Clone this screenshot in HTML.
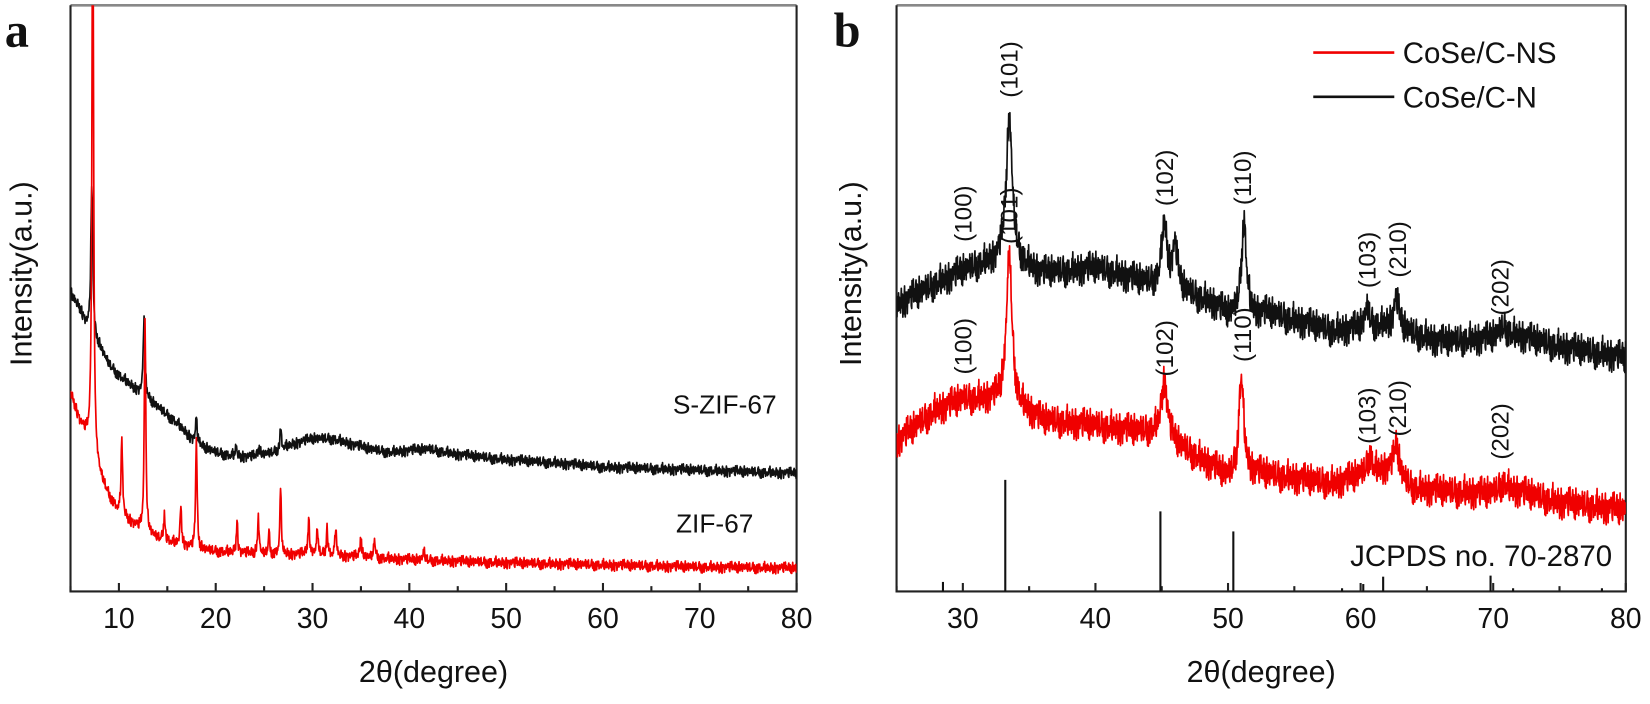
<!DOCTYPE html>
<html><head><meta charset="utf-8">
<style>
html,body{margin:0;padding:0;background:#fff;}
svg{display:block;}
text{font-family:"Liberation Sans",Arial,sans-serif;}
</style></head>
<body>
<svg id="fig" width="1650" height="704" viewBox="0 0 1568 669" preserveAspectRatio="none" xmlns="http://www.w3.org/2000/svg">
  <g id="panelA"></g>
  <g id="panelB"></g>
</svg>
<script>
// ---------- Panel a data (intensity in plot units, 0 = axis bottom) ----------
const aBlackBaseX = [5,6,7,8,9,10,12,14,16,18,20,22,24,26,28,30,32,34,36,38,40,42,45,50,55,60,70,80];
const aBlackBaseY = [283,268,242,232,215,205,190,175,160,140,132,128,128,132,140,145,145,140,135,132,134,135,130,125,122,118,115,112];
const aBlackPeakX = [7.2,12.6,18.0,22.1,24.5,26.7];
const aBlackPeakH = [145,80,25,10,8,20];
const aRedBaseX = [5,6,7,8,9,10,12,14,16,18,20,25,30,40,50,60,70,80];
const aRedBaseY = [189,160,140,110,90,75,60,50,45,40,38,35,35,30,27,25,23,22];
const aRedPeakX = [7.3,10.3,12.7,14.7,16.4,18.0,22.2,24.4,25.5,26.7,29.6,30.5,31.5,32.4,35.0,36.4,41.5];
const aRedPeakH = [600,75,205,27,38,105,30,35,20,62,35,25,27,28,20,19,10];
const aTicks = [10,20,30,40,50,60,70,80];

// ---------- Panel b data ----------
const bBlackBaseX = [25,28,30,32,33.5,36,38,40,42,44,46,47,49,50,52,53,55,58,60,62,64,66,70,72,75,80];
const bBlackBaseY = [272,292,304,312,314,302,304,307,300,292,285,282,272,262,262,264,257,247,250,252,244,237,240,242,232,222];
const bBlackPeakX = [33.5,45.2,46.0,51.2,60.5,62.7,70.8];
const bBlackPeakH = [135,60,40,90,18,28,10];
const bRedBaseX = [25,28,30,32,33.5,36,40,43,44.5,46,47,49,50,52,55,58,60,62,64,66,70,72,75,80];
const bRedBaseY = [142,172,182,182,180,162,157,152,150,140,132,117,107,112,107,102,110,115,97,95,92,94,84,77];
const bRedPeakX = [33.5,45.2,51.0,60.7,62.7,70.8];
const bRedPeakH = [140,55,95,18,30,10];
const refX = [28.5,33.2,44.9,50.4,58.6,60.2,61.7,69.8,71.5,78.2];
const refH = [9,106,76,57,3,7,14,15,3,3];
const bTicks = [30,40,50,60,70,80];
const bLabelsHKL = ["(100)","(101)","(102)","(110)","(103)","(210)","(202)"];
const bLabelX = [30.0,33.5,45.2,51.1,60.5,62.8,70.5];
const bLabelBlackY = [359,496,393,393,315,325,289];
const bLabelRedY = [233,357,231,244,167,174,152];

// fixed jitter texture table
const jitter = [0.3,-0.8,0.9,-0.2,-1,0.6,0.1,-0.5,1,-0.7,0.4,-0.3,0.8,-0.9,0.2,0.7,-0.4,-0.1,0.95,-0.6,0.5,-0.85,0.15,0.65,-0.25,-0.75,0.85,-0.45,0.35,0.05,-0.95,0.55,-0.15,0.75,-0.55,0.25,-0.35];

const NS="http://www.w3.org/2000/svg";
function mk(tag, attrs, parent){const e=document.createElementNS(NS,tag);for(const k in attrs)e.setAttribute(k,attrs[k]);parent.appendChild(e);return e;}
function interp(xs,ys,x){if(x<=xs[0])return ys[0];for(let i=1;i<xs.length;i++){if(x<=xs[i]){const t=(x-xs[i-1])/(xs[i]-xs[i-1]);return ys[i-1]+t*(ys[i]-ys[i-1]);}}return ys[ys.length-1];}
function curve(bx,by,px,ph,w,x0,x1,step,noise,seed){
  const pts=[];let k=seed;const n=jitter.length;
  for(let x=x0;x<=x1+1e-9;x+=step){
    let y=interp(bx,by,x);
    for(let i=0;i<px.length;i++){const d=(x-px[i])/w[i];y+=ph[i]/(1+d*d*4);}
    const j=0.55*jitter[k%n]+0.3*jitter[(k*13+5)%n]+0.25*jitter[(Math.floor(k/3)*7+2)%n];
    y+=j*noise;
    k++;
    pts.push([x,y]);
  }
  return pts;
}

function drawPanel(g,opt){
  const L=opt.L,R=opt.R,T=5,B=562;
  const sx=v=>L+(v-opt.xmin)/(opt.xmax-opt.xmin)*(R-L);
  const sy=v=>B-v;
  const clip=mk('clipPath',{id:'clip'+opt.id},g);
  mk('rect',{x:L,y:T,width:R-L,height:B-T},clip);
  const top=mk('line',{x1:L,y1:T,x2:R,y2:T,stroke:'#888',"stroke-width":2.5},g);
  
  
  const fr=mk('path',{d:`M${L},${T}V${B}H${R}V${T}`,fill:'none',stroke:'#222',"stroke-width":2},g);
  
  
  for(let v=opt.xmin;v<=opt.xmax;v+=5){
    const major=v%10===0;
    const t=mk('line',{x1:sx(v),y1:B,x2:sx(v),y2:B-(major?8:5),stroke:'#222',"stroke-width":2},g);
    
    
  }
  opt.ticks.forEach(v=>{
    const t=mk('text',{x:sx(v),y:597,"font-size":27,"text-anchor":"middle",fill:'#111'},g);
    t.textContent=v;
    
    
  });
  const xt=mk('text',{x:(L+R)/2,y:648,"font-size":29,"text-anchor":"middle",fill:'#111'},g);
  xt.textContent='2θ(degree)';
  
  
  const yt=mk('text',{x:0,y:0,"font-size":29,"text-anchor":"middle",fill:'#111',transform:`translate(${opt.ytx},260) rotate(-90)`},g);
  yt.textContent='Intensity(a.u.)';
  
  
  const pl=mk('text',{x:opt.plx,y:44,"font-size":46,"font-weight":"bold","text-anchor":"middle",fill:'#111',style:'font-family:"Liberation Serif",serif'},g);
  pl.textContent=opt.letter;
  
  
  const cg=mk('g',{"clip-path":`url(#clip${opt.id})`},g);
  opt.series.forEach(s=>{
    const d=s.pts.map((p,i)=>(i?'L':'M')+sx(p[0]).toFixed(1)+','+sy(p[1]).toFixed(1)).join('');
    const p=mk('path',{d:d,fill:'none',stroke:s.color,"stroke-width":1.6,"stroke-linejoin":"round"},cg);
    
    
  });
  return {sx,sy,B};
}

// Panel a
const gA=document.getElementById('panelA');
const aBlack=curve(aBlackBaseX,aBlackBaseY,aBlackPeakX,aBlackPeakH,[0.25,0.2,0.2,0.2,0.2,0.2],5,80,0.05,7,0);
const aRed=curve(aRedBaseX,aRedBaseY,aRedPeakX,aRedPeakH,aRedPeakX.map(()=>0.18),5,80,0.05,7,11);
drawPanel(gA,{id:'a',L:67,R:757,xmin:5,xmax:80,ticks:aTicks,ytx:30,plx:16,letter:'a',
  series:[{pts:aBlack,color:'#111',name:'s-zif-67-curve'},{pts:aRed,color:'#f00000',name:'zif-67-curve'}]});
const la=mk('text',{x:738,y:393,"font-size":25,"text-anchor":"end",fill:'#111'},gA);
la.textContent='S-ZIF-67';


const lb=mk('text',{x:716,y:506,"font-size":25,"text-anchor":"end",fill:'#111'},gA);
lb.textContent='ZIF-67';



// Panel b
const gB=document.getElementById('panelB');
const bBlack=curve(bBlackBaseX,bBlackBaseY,bBlackPeakX,bBlackPeakH,[0.55,0.5,0.5,0.45,0.4,0.5,0.8],25,80,0.03,20,3);
const bRed=curve(bRedBaseX,bRedBaseY,bRedPeakX,bRedPeakH,[0.5,0.55,0.45,0.4,0.5,0.8],25,80,0.03,20,17);
const ax=drawPanel(gB,{id:'b',L:852,R:1545,xmin:25,xmax:80,ticks:bTicks,ytx:818,plx:805,letter:'b',
  series:[{pts:bBlack,color:'#111',name:'cose-c-n-curve'},{pts:bRed,color:'#f00000',name:'cose-c-ns-curve'}]});
refX.forEach((v,i)=>{
  const l=mk('line',{x1:ax.sx(v),y1:ax.B,x2:ax.sx(v),y2:ax.B-refH[i],stroke:'#111',"stroke-width":2},gB);
  
  
});
const jt=mk('text',{x:1532,y:538,"font-size":28,"text-anchor":"end",fill:'#111'},gB);
jt.textContent='JCPDS no. 70-2870';


bLabelsHKL.forEach((s,i)=>{
  [[bLabelBlackY[i],'black'],[bLabelRedY[i],'red']].forEach(([v,c])=>{
    const t=mk('text',{x:0,y:0,"font-size":23,"text-anchor":"middle",fill:'#111',transform:`translate(${ax.sx(bLabelX[i])+8},${ax.sy(v)}) rotate(-90)`},gB);
    t.textContent=s;
    
    
  });
});
const lg=mk('g',{},gB);


[['CoSe/C-NS','#f00000',50],['CoSe/C-N','#111',92]].forEach(([n,c,y])=>{
  const l=mk('line',{x1:1248,y1:y,x2:1325,y2:y,stroke:c,"stroke-width":2.5},lg);
  
  
  const t=mk('text',{x:1333,y:y+10,"font-size":28,fill:'#111'},lg);
  t.textContent=n;
  
  
});
</script>
</body></html>
